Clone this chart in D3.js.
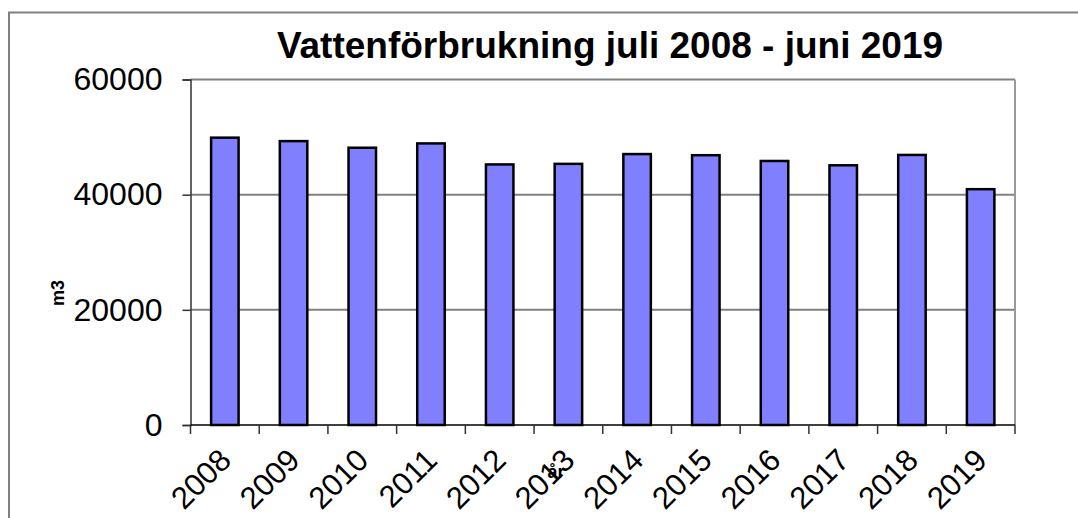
<!DOCTYPE html>
<html>
<head>
<meta charset="utf-8">
<script src="https://cdn.jsdelivr.net/npm/d3@7"></script>
<style>
body { margin: 0; background: #fff; }
text { font-family: "Liberation Sans", Arial, sans-serif; }
</style>
</head>
<body>
<svg width="1078" height="518"></svg>
<script>
var years = ["2008", "2009", "2010", "2011", "2012", "2013", "2014", "2015", "2016", "2017", "2018", "2019"];
var values = [49900, 49300, 48150, 48900, 45250, 45350, 47050, 46850, 45850, 45100, 46900, 40950];
var yTicks = [0, 20000, 40000, 60000];

var svg = d3.select("svg");
var plotL = 190.5, plotR = 1015, plotT = 79.5, plotB = 425;

// outer frame, runs off the right and bottom edge
svg.append("path")
    .attr("d", "M1080,12.5 L9,12.5 L9,520")
    .attr("fill", "none")
    .attr("stroke", "#808080")
    .attr("stroke-width", 2);

var x = d3.scaleBand().domain(years).range([plotL, plotR]).paddingInner(0.6).paddingOuter(0.3);
var y = d3.scaleLinear().domain([0, 60000]).range([plotB, plotT]);

// gridlines
svg.append("g").selectAll("line").data(yTicks.slice(1)).enter().append("line")
    .attr("x1", plotL).attr("x2", plotR)
    .attr("y1", d => y(d)).attr("y2", d => y(d))
    .attr("stroke", "#808080").attr("stroke-width", 2);

// right border of plot
svg.append("line")
    .attr("x1", plotR).attr("x2", plotR).attr("y1", plotT).attr("y2", plotB)
    .attr("stroke", "#999").attr("stroke-width", 2);

// bars
svg.append("g").selectAll("rect").data(values).enter().append("rect")
    .attr("x", (d, i) => x(years[i]))
    .attr("y", d => y(d))
    .attr("width", x.bandwidth())
    .attr("height", d => plotB - y(d))
    .attr("fill", "#8080FF")
    .attr("stroke", "#000")
    .attr("stroke-width", 2.5);

// y axis
var yAxis = svg.append("g").attr("transform", "translate(" + plotL + ",0)")
    .call(d3.axisLeft(y).tickValues(yTicks).tickSize(8).tickPadding(20).tickFormat(d3.format("d")));
yAxis.select(".domain").attr("stroke", "#333").attr("stroke-width", 1.5);
yAxis.selectAll(".tick line").attr("stroke", "#333").attr("stroke-width", 1.5);
yAxis.selectAll(".tick text").attr("font-size", 32).attr("fill", "#000")
    .attr("font-family", "Liberation Sans, Arial, sans-serif");

// x axis, ticks between categories
var bounds = d3.range(years.length + 1).map(i => plotL + i * (plotR - plotL) / years.length);
svg.append("line")
    .attr("x1", plotL).attr("x2", plotR).attr("y1", plotB).attr("y2", plotB)
    .attr("stroke", "#000").attr("stroke-width", 1.5);
svg.append("g").selectAll("line").data(bounds).enter().append("line")
    .attr("x1", d => d).attr("x2", d => d)
    .attr("y1", plotB).attr("y2", plotB + 9)
    .attr("stroke", "#333").attr("stroke-width", 1.5);

svg.append("g").selectAll("text").data(years).enter().append("text")
    .attr("transform", d => "translate(" + (x(d) + x.bandwidth() / 2 + 8) + "," + (plotB + 37) + ") rotate(-45)")
    .attr("text-anchor", "end")
    .attr("font-size", 31)
    .attr("fill", "#000")
    .text(d => d);

// title and axis titles
svg.append("text")
    .attr("x", 610).attr("y", 58)
    .attr("text-anchor", "middle")
    .attr("font-size", 37).attr("font-weight", "bold")
    .text("Vattenförbrukning juli 2008 - juni 2019");

svg.append("text")
    .attr("transform", "translate(64,293) rotate(-90)")
    .attr("text-anchor", "middle")
    .attr("font-size", 18).attr("font-weight", "bold")
    .text("m3");

svg.append("text")
    .attr("x", 556).attr("y", 478)
    .attr("text-anchor", "middle")
    .attr("font-size", 18).attr("font-weight", "bold")
    .text("år");
</script>
</body>
</html>
